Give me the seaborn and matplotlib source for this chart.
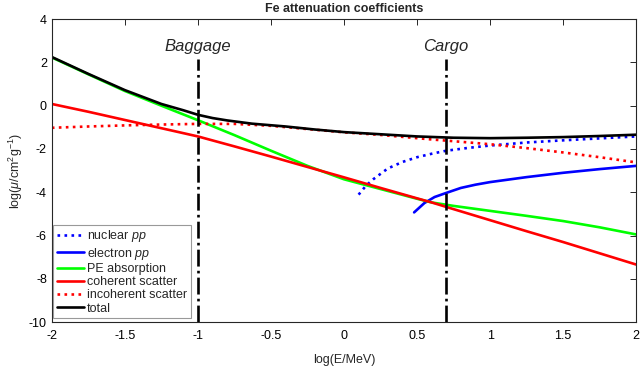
import matplotlib
matplotlib.use("Agg")
import matplotlib.pyplot as plt
import pandas as pd
import seaborn as sns
from matplotlib.ticker import FormatStrFormatter

# log10(E/MeV) grid for the broad curves
x_grid = [-2, -1.75, -1.5, -1.25, -1, -0.75, -0.5, -0.25, 0,
          0.25, 0.5, 0.6, 0.75, 1, 1.25, 1.5, 1.75, 2]

pe_absorption = [2.23, 1.45, 0.68, 0.0, -0.67, -1.36, -2.08, -2.78, -3.4,
                 -3.85, -4.3, -4.47, -4.63, -4.86, -5.09, -5.33, -5.62, -5.95]
coherent = [0.08, -0.28, -0.66, -1.04, -1.42, -1.88, -2.35, -2.83, -3.31,
            -3.8, -4.28, -4.47, -4.78, -5.29, -5.8, -6.3, -6.82, -7.34]
incoherent = [-1.02, -0.96, -0.91, -0.87, -0.84, -0.84, -0.93, -1.08, -1.23,
              -1.35, -1.5, -1.56, -1.64, -1.78, -1.96, -2.16, -2.38, -2.62]

total_x = [-2, -1.75, -1.5, -1.25, -1.1, -1, -0.9, -0.8, -0.63, -0.4, -0.2,
           0, 0.25, 0.5, 0.75, 1, 1.25, 1.5, 1.75, 2]
total = [2.25, 1.47, 0.72, 0.08, -0.21, -0.42, -0.57, -0.68, -0.83, -0.96,
         -1.1, -1.22, -1.32, -1.42, -1.48, -1.5, -1.48, -1.45, -1.4, -1.34]

nuclear_x = [0.1, 0.15, 0.2, 0.3, 0.4, 0.5, 0.6, 0.7, 0.85, 1, 1.25, 1.5, 1.75, 2]
nuclear_pp = [-4.11, -3.7, -3.4, -2.9, -2.6, -2.38, -2.22, -2.08, -1.95,
              -1.84, -1.7, -1.6, -1.51, -1.42]

electron_x = [0.48, 0.55, 0.62, 0.7, 0.8, 0.9, 1.0, 1.25, 1.5, 1.75, 2]
electron_pp = [-4.93, -4.5, -4.22, -4.03, -3.8, -3.65, -3.53, -3.3, -3.1, -2.93, -2.78]

markers = {"Baggage": -1.0, "Cargo": 0.699}
marker_top = 2.16

sns.set_theme(style="white")
plt.rcParams["font.family"] = ["Liberation Sans", "DejaVu Sans"]
plt.rcParams["mathtext.fontset"] = "custom"
plt.rcParams["mathtext.rm"] = "Liberation Sans"
plt.rcParams["mathtext.it"] = "Liberation Sans:italic"
plt.rcParams["axes.unicode_minus"] = False

fig = plt.figure(figsize=(6.4, 3.83), dpi=100)
ax = fig.add_axes([0.081, 0.159, 0.913, 0.791])

broad = pd.DataFrame({"x": x_grid, "pe": pe_absorption,
                      "coh": coherent, "incoh": incoherent})
tot = pd.DataFrame({"x": total_x, "y": total})
nuc = pd.DataFrame({"x": nuclear_x, "y": nuclear_pp})
ele = pd.DataFrame({"x": electron_x, "y": electron_pp})

lw = 1.9
sns.lineplot(data=nuc, x="x", y="y", ax=ax, color="#0000ff", lw=lw,
             linestyle=":", label="nuclear $pp$")
sns.lineplot(data=ele, x="x", y="y", ax=ax, color="#0000ff", lw=lw,
             label="electron $pp$")
sns.lineplot(data=broad, x="x", y="pe", ax=ax, color="#00ff00", lw=lw,
             label="PE absorption")
sns.lineplot(data=broad, x="x", y="coh", ax=ax, color="#ff0000", lw=lw,
             label="coherent scatter")
sns.lineplot(data=broad, x="x", y="incoh", ax=ax, color="#ff0000", lw=lw,
             linestyle=":", label="incoherent scatter")
sns.lineplot(data=tot, x="x", y="y", ax=ax, color="black", lw=lw,
             label="total")

for name, xv in markers.items():
    ax.vlines(xv, -10, marker_top, colors="black", linestyles="-.", lw=1.9)
    ax.text(xv, 2.75, name, ha="center", va="center", fontsize=12,
            style="italic")

ax.set_xlim(-2, 2)
ax.set_ylim(-10, 4)
ax.set_xticks([-2, -1.5, -1, -0.5, 0, 0.5, 1, 1.5, 2])
ax.set_yticks(range(-10, 5, 2))
ax.xaxis.set_major_formatter(FormatStrFormatter("%g"))
ax.tick_params(direction="in", length=4, width=0.7, colors="#262626",
               labelsize=9, top=True, right=True, labelcolor="black")
ax.tick_params(axis="x", pad=6)
for s in ax.spines.values():
    s.set_color("#262626")
    s.set_linewidth(0.8)

ax.set_xlabel("log(E/MeV)", fontsize=9, labelpad=8)
ax.set_ylabel(r"log($\mu$/cm$^2$g$^{-1}$)", fontsize=9, labelpad=3)
ax.set_title("Fe attenuation coefficients", fontsize=9, fontweight="bold",
             pad=5, family=["Liberation Sans Narrow", "Liberation Sans"])

leg = ax.legend(loc="lower left", bbox_to_anchor=(0.002, 0.012),
                borderaxespad=0, fontsize=9, frameon=True, fancybox=False,
                framealpha=1, edgecolor="#999999", handlelength=2.2,
                handletextpad=0.2, labelspacing=0.1, borderpad=0.3)
leg.get_frame().set_linewidth(0.8)

fig.savefig("out.png", dpi=100)
